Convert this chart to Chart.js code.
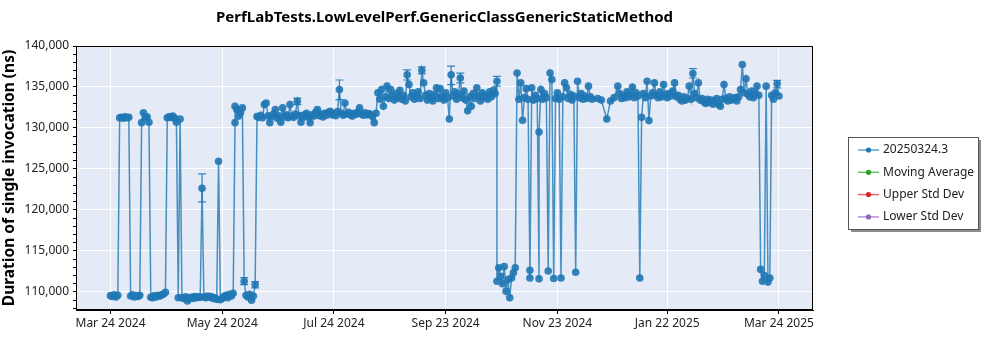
<!DOCTYPE html>
<html>
<head>
<meta charset="utf-8">
<title>GenericClassGenericStaticMethod</title>
<script src="https://cdn.jsdelivr.net/npm/chart.js@4.4.1/dist/chart.umd.min.js"></script>
<style>
  html, body { margin: 0; padding: 0; background: #fff; }
  #wrap { width: 1000px; height: 350px; }
</style>
</head>
<body>
<div id="wrap"><canvas id="chart" width="1000" height="350"></canvas></div>
<script>
// ---- data ----
const chartTitle = "PerfLabTests.LowLevelPerf.GenericClassGenericStaticMethod";
const yTitle = "Duration of single invocation (ns)";
const seriesLabels = ["20250324.3", "Moving Average", "Upper Std Dev", "Lower Std Dev"];

const tickDates = ["2024-03-24", "2024-05-24", "2024-07-24", "2024-09-23", "2024-11-23", "2025-01-22", "2025-03-24"];
const tickLabels = ["Mar 24 2024", "May 24 2024", "Jul 24 2024", "Sep 23 2024", "Nov 23 2024", "Jan 22 2025", "Mar 24 2025"];

// one line per month, dates and values kept in step
const runDates = [
  "2024-03-24","2024-03-25","2024-03-26","2024-03-27","2024-03-28","2024-03-29","2024-03-30","2024-03-31",
  "2024-04-01","2024-04-02","2024-04-03","2024-04-04","2024-04-05","2024-04-06","2024-04-07","2024-04-08","2024-04-09","2024-04-10","2024-04-11","2024-04-12","2024-04-13","2024-04-14","2024-04-15","2024-04-16","2024-04-17","2024-04-18","2024-04-19","2024-04-20","2024-04-21","2024-04-22","2024-04-23","2024-04-24","2024-04-25","2024-04-26","2024-04-27","2024-04-28","2024-04-29","2024-04-30",
  "2024-05-01","2024-05-02","2024-05-03","2024-05-04","2024-05-05","2024-05-06","2024-05-07","2024-05-08","2024-05-09","2024-05-10","2024-05-11","2024-05-12","2024-05-13","2024-05-14","2024-05-15","2024-05-16","2024-05-17","2024-05-18","2024-05-19","2024-05-20","2024-05-21","2024-05-22","2024-05-23","2024-05-24","2024-05-25","2024-05-26","2024-05-27","2024-05-28","2024-05-29","2024-05-30","2024-05-31","2024-05-31",
  "2024-06-01","2024-06-02","2024-06-03","2024-06-04","2024-06-05","2024-06-06","2024-06-07","2024-06-08","2024-06-09","2024-06-10","2024-06-11","2024-06-12","2024-06-13","2024-06-14","2024-06-15","2024-06-16","2024-06-17","2024-06-18","2024-06-19","2024-06-20","2024-06-21","2024-06-22","2024-06-23","2024-06-24","2024-06-25","2024-06-26","2024-06-27","2024-06-28","2024-06-29","2024-06-30",
  "2024-07-01","2024-07-02","2024-07-03","2024-07-04","2024-07-05","2024-07-06","2024-07-07","2024-07-08","2024-07-09","2024-07-10","2024-07-11","2024-07-12","2024-07-13","2024-07-14","2024-07-15","2024-07-16","2024-07-17","2024-07-18","2024-07-19","2024-07-20","2024-07-21","2024-07-22","2024-07-23","2024-07-24","2024-07-25","2024-07-26","2024-07-27","2024-07-28","2024-07-29","2024-07-30","2024-07-31",
  "2024-08-01","2024-08-02","2024-08-03","2024-08-04","2024-08-05","2024-08-06","2024-08-07","2024-08-08","2024-08-09","2024-08-10","2024-08-11","2024-08-12","2024-08-13","2024-08-14","2024-08-15","2024-08-16","2024-08-17","2024-08-18","2024-08-19","2024-08-20","2024-08-21","2024-08-22","2024-08-23","2024-08-24","2024-08-25","2024-08-26","2024-08-27","2024-08-28","2024-08-29","2024-08-30","2024-08-31",
  "2024-09-01","2024-09-02","2024-09-03","2024-09-04","2024-09-05","2024-09-06","2024-09-07","2024-09-08","2024-09-09","2024-09-10","2024-09-11","2024-09-12","2024-09-13","2024-09-14","2024-09-15","2024-09-16","2024-09-17","2024-09-18","2024-09-19","2024-09-20","2024-09-21","2024-09-22","2024-09-23","2024-09-24","2024-09-25","2024-09-26","2024-09-27","2024-09-28","2024-09-29","2024-09-30",
  "2024-10-01","2024-10-02","2024-10-03","2024-10-04","2024-10-05","2024-10-06","2024-10-07","2024-10-08","2024-10-09","2024-10-10","2024-10-11","2024-10-12","2024-10-13","2024-10-14","2024-10-15","2024-10-16","2024-10-17","2024-10-18","2024-10-19","2024-10-20","2024-10-21","2024-10-21","2024-10-22","2024-10-23","2024-10-24","2024-10-25","2024-10-26","2024-10-27","2024-10-28","2024-10-29","2024-10-30","2024-10-31",
  "2024-11-01","2024-11-02","2024-11-03","2024-11-04","2024-11-05","2024-11-06","2024-11-07","2024-11-08","2024-11-08","2024-11-09","2024-11-10","2024-11-11","2024-11-12","2024-11-13","2024-11-13","2024-11-14","2024-11-15","2024-11-16","2024-11-17","2024-11-18","2024-11-19","2024-11-20","2024-11-21","2024-11-22","2024-11-23","2024-11-24","2024-11-25","2024-11-26","2024-11-27","2024-11-28","2024-11-29","2024-11-30",
  "2024-12-01","2024-12-02","2024-12-03","2024-12-04","2024-12-05","2024-12-06","2024-12-07","2024-12-08","2024-12-09","2024-12-10","2024-12-11","2024-12-12","2024-12-15","2024-12-17","2024-12-20","2024-12-22","2024-12-24","2024-12-26","2024-12-27","2024-12-28","2024-12-29","2024-12-30","2024-12-31",
  "2025-01-01","2025-01-02","2025-01-03","2025-01-04","2025-01-05","2025-01-06","2025-01-07","2025-01-08","2025-01-09","2025-01-10","2025-01-11","2025-01-12","2025-01-13","2025-01-14","2025-01-15","2025-01-16","2025-01-17","2025-01-18","2025-01-19","2025-01-20","2025-01-21","2025-01-22","2025-01-23","2025-01-24","2025-01-25","2025-01-26","2025-01-27","2025-01-28","2025-01-29","2025-01-30","2025-01-31",
  "2025-02-01","2025-02-02","2025-02-03","2025-02-04","2025-02-05","2025-02-06","2025-02-07","2025-02-08","2025-02-09","2025-02-10","2025-02-11","2025-02-12","2025-02-13","2025-02-14","2025-02-15","2025-02-16","2025-02-17","2025-02-18","2025-02-19","2025-02-20","2025-02-21","2025-02-22","2025-02-23","2025-02-24","2025-02-25","2025-02-26","2025-02-27","2025-02-28",
  "2025-03-01","2025-03-02","2025-03-03","2025-03-04","2025-03-05","2025-03-06","2025-03-07","2025-03-08","2025-03-09","2025-03-10","2025-03-11","2025-03-12","2025-03-13","2025-03-14","2025-03-15","2025-03-16","2025-03-17","2025-03-18","2025-03-19","2025-03-20","2025-03-21","2025-03-22","2025-03-23","2025-03-24"
];

const runValues = [
  109550,109450,109650,109400,109600,131250,131300,131200,
  131350,131250,131300,109500,109650,109400,109550,109450,109600,130650,131850,131300,131350,130700,109350,109300,109550,109400,109600,109500,109650,109750,109950,131250,131350,131300,131450,131200,130700,109300,
  131100,109300,109200,109400,108900,109250,109350,109200,109450,109300,109400,109350,122650,109400,109300,109500,109350,109450,109200,109300,109100,125950,109050,109200,109450,109600,109300,109700,109500,109850,130650,132650,
  132250,131450,131900,132450,111300,109600,109400,109700,109000,109500,110900,131400,131300,131550,131250,132850,133050,131500,130650,131400,131700,132250,131200,131500,130700,132450,131350,131600,131250,132850,
  131450,131300,131700,133250,131500,130700,131550,131350,131800,131400,130650,131600,131450,131900,132250,131500,131700,131350,131800,131550,131900,132050,131600,131750,131500,132000,134700,131800,131550,133050,131700,
  131900,131600,131450,131800,131650,131900,132450,131700,131550,131850,131600,131750,131650,131400,130650,131800,134300,133500,134700,132650,133800,135100,133600,134700,133900,133400,134200,133700,134600,133500,134000,
  133300,136500,135300,133800,134300,133500,133900,134400,133600,137050,135500,134000,133400,134200,133700,133300,134100,134900,133600,134800,133800,133400,134300,133700,131100,136500,133900,134400,133500,134100,
  136100,133700,134500,133400,132100,133800,132650,134200,133600,134900,133900,133300,134300,133700,134000,133500,134400,133800,134600,134200,135700,111300,112950,111900,111000,113100,110100,111500,109300,111700,112350,112950,
  136700,133500,135500,130950,133700,134800,133500,112650,111700,134900,133400,134000,133600,111600,129500,134700,133500,134200,133700,112550,136700,135900,111650,133600,134300,133500,111700,133800,135500,134900,133600,134100,
  133400,133900,112400,135700,133700,134200,133500,133900,133600,135100,133800,133500,133600,133400,131100,133300,133700,135100,134200,133600,133900,133700,134400,
  133800,134100,135000,133700,134300,133900,111700,131300,134200,133700,135700,130900,133900,134300,135500,134000,133700,134400,133800,135300,134100,133700,134200,133900,134500,135500,133800,134000,133500,133300,133800,
  133400,133600,135100,133500,136650,134200,133700,135500,133400,133600,133200,133000,133500,133100,133400,132900,133300,133600,132850,132650,133500,135300,133600,133300,133800,133400,133500,133700,
  133300,133800,134700,137750,134300,136000,134100,133800,134500,133700,134200,135100,134000,112750,111300,112000,135100,111200,111700,134000,133500,134300,135400,133900
];

// the few error bars that stand out from the markers
const errDates = ["2024-05-13", "2024-06-05", "2024-06-11", "2024-07-04", "2024-07-27", "2024-09-02", "2024-09-10", "2024-09-26", "2024-10-01", "2024-10-21", "2025-02-05", "2025-03-23"];
const errLow   = [121000, 110900, 110500, 132850, 133450, 135850, 136600, 135300, 135500, 135100, 136100, 134900];
const errHigh  = [124400, 111750, 111250, 133650, 135850, 137100, 137450, 137550, 136700, 136300, 137250, 135800];

const axisStart = "2024-03-05T04:00:00Z";
const axisEnd = "2025-04-11T14:00:00Z";
const yMin = 107800;
const yMax = 140000;
const yMajorStep = 5000;
const yMinorStep = 1000;

// ---- chart ----
const FONT = "'Noto Sans', 'Open Sans', sans-serif";
const colors = ["#1f77b4", "#2ca02c", "#d62728", "#9467bd"];
const toTime = (s) => Date.parse(s.length > 10 ? s : s + "T00:00:00Z");

Chart.defaults.font.family = FONT;
Chart.defaults.color = "#222";

const points = runDates.map((d, i) => ({ x: toTime(d), y: runValues[i] }));

// plot background and the black box round it
const plotFrame = {
  id: "plotFrame",
  beforeDraw(chart) {
    const { ctx, chartArea: a } = chart;
    ctx.save();
    ctx.fillStyle = "#e5ebf6";
    ctx.fillRect(a.left, a.top, a.right - a.left, a.bottom - a.top);
    ctx.restore();
  },
  afterDraw(chart) {
    const { ctx, chartArea: a } = chart;
    ctx.save();
    ctx.strokeStyle = "#000";
    ctx.lineWidth = 1;
    ctx.strokeRect(Math.round(a.left) + 0.5, Math.round(a.top) + 0.5,
      Math.round(a.right - a.left) - 1, Math.round(a.bottom - a.top) - 1);
    ctx.restore();
  }
};

const errorBars = {
  id: "errorBars",
  afterDatasetsDraw(chart) {
    const { ctx } = chart;
    const xs = chart.scales.x, ys = chart.scales.y;
    ctx.save();
    ctx.strokeStyle = "rgba(31,119,180,0.9)";
    ctx.lineWidth = 1.2;
    errDates.forEach((d, i) => {
      const x = xs.getPixelForValue(toTime(d));
      const y1 = ys.getPixelForValue(errLow[i]);
      const y2 = ys.getPixelForValue(errHigh[i]);
      ctx.beginPath();
      ctx.moveTo(x, y1); ctx.lineTo(x, y2);
      ctx.moveTo(x - 4, y1); ctx.lineTo(x + 4, y1);
      ctx.moveTo(x - 4, y2); ctx.lineTo(x + 4, y2);
      ctx.stroke();
    });
    ctx.restore();
  }
};

// boxed legend with a drop shadow, right of the plot
const boxLegend = {
  id: "boxLegend",
  afterDraw(chart) {
    const { ctx } = chart;
    const bx = 848, by = 137, bw = 130, bh = 92;
    ctx.save();
    ctx.fillStyle = "rgba(0,0,0,0.45)";
    ctx.fillRect(bx + 3, by + 3, bw, bh);
    ctx.fillStyle = "#fff";
    ctx.fillRect(bx, by, bw, bh);
    ctx.strokeStyle = "#555";
    ctx.lineWidth = 1;
    ctx.strokeRect(bx + 0.5, by + 0.5, bw, bh);
    ctx.font = "12px " + FONT;
    ctx.textBaseline = "middle";
    chart.data.datasets.forEach((ds, i) => {
      const y = by + 13 + i * 22.3;
      ctx.globalAlpha = 0.7;
      ctx.strokeStyle = colors[i];
      ctx.lineWidth = 1.5;
      ctx.beginPath();
      ctx.moveTo(bx + 10, y); ctx.lineTo(bx + 31, y);
      ctx.stroke();
      ctx.globalAlpha = 1;
      ctx.fillStyle = colors[i];
      ctx.beginPath();
      ctx.arc(bx + 20.5, y, 2.6, 0, Math.PI * 2);
      ctx.fill();
      ctx.fillStyle = "#222";
      ctx.fillText(ds.label, bx + 35, y);
    });
    ctx.restore();
  }
};

new Chart(document.getElementById("chart"), {
  type: "line",
  data: {
    datasets: [
      {
        label: seriesLabels[0],
        data: points,
        borderColor: "rgba(31,119,180,0.8)",
        borderWidth: 1.5,
        pointRadius: 3.8,
        pointBorderWidth: 0,
        pointBackgroundColor: "rgba(31,119,180,0.9)",
        tension: 0
      },
      { label: seriesLabels[1], data: [], borderColor: colors[1] },
      { label: seriesLabels[2], data: [], borderColor: colors[2] },
      { label: seriesLabels[3], data: [], borderColor: colors[3] }
    ]
  },
  options: {
    responsive: false,
    animation: false,
    events: [],
    layout: { padding: { left: 0, right: 187, top: 0, bottom: 0 } },
    plugins: {
      legend: { display: false },
      tooltip: { enabled: false },
      title: {
        display: true,
        text: chartTitle,
        fullSize: false,
        color: "#000",
        font: { size: 15, weight: "bold" },
        padding: { top: 9, bottom: 19 }
      }
    },
    scales: {
      x: {
        type: "linear",
        min: toTime(axisStart),
        max: toTime(axisEnd),
        afterBuildTicks(scale) {
          scale.ticks = tickDates.map((d) => ({ value: toTime(d) }));
        },
        afterFit(scale) { scale.height = 40; },
        ticks: {
          autoSkip: false,
          maxRotation: 0,
          padding: 2,
          color: "#222",
          font: { size: 12 },
          callback: (v, i) => tickLabels[i]
        },
        grid: { color: "#fff", lineWidth: 1, tickColor: "#000", tickLength: 4 },
        border: { color: "#000", width: 1 }
      },
      y: {
        min: yMin,
        max: yMax,
        afterBuildTicks(scale) {
          const t = [];
          for (let v = Math.ceil(yMin / yMinorStep) * yMinorStep; v <= yMax; v += yMinorStep) t.push({ value: v });
          scale.ticks = t;
        },
        afterFit(scale) { scale.width = 76; },
        ticks: {
          autoSkip: false,
          padding: 4,
          color: "#222",
          font: { size: 12 },
          callback: (v) => (v % yMajorStep === 0 ? v.toLocaleString("en-US") : "")
        },
        grid: {
          color: (c) => (c.tick && c.tick.value % yMajorStep === 0 ? "#fff" : "rgba(0,0,0,0)"),
          lineWidth: 1,
          tickColor: "#000",
          tickLength: 3
        },
        border: { color: "#000", width: 1 },
        title: {
          display: true,
          text: yTitle,
          color: "#000",
          font: { size: 15.5, weight: "bold" },
          padding: { top: 0, bottom: 2 }
        }
      }
    }
  },
  plugins: [plotFrame, errorBars, boxLegend]
});
</script>
</body>
</html>
